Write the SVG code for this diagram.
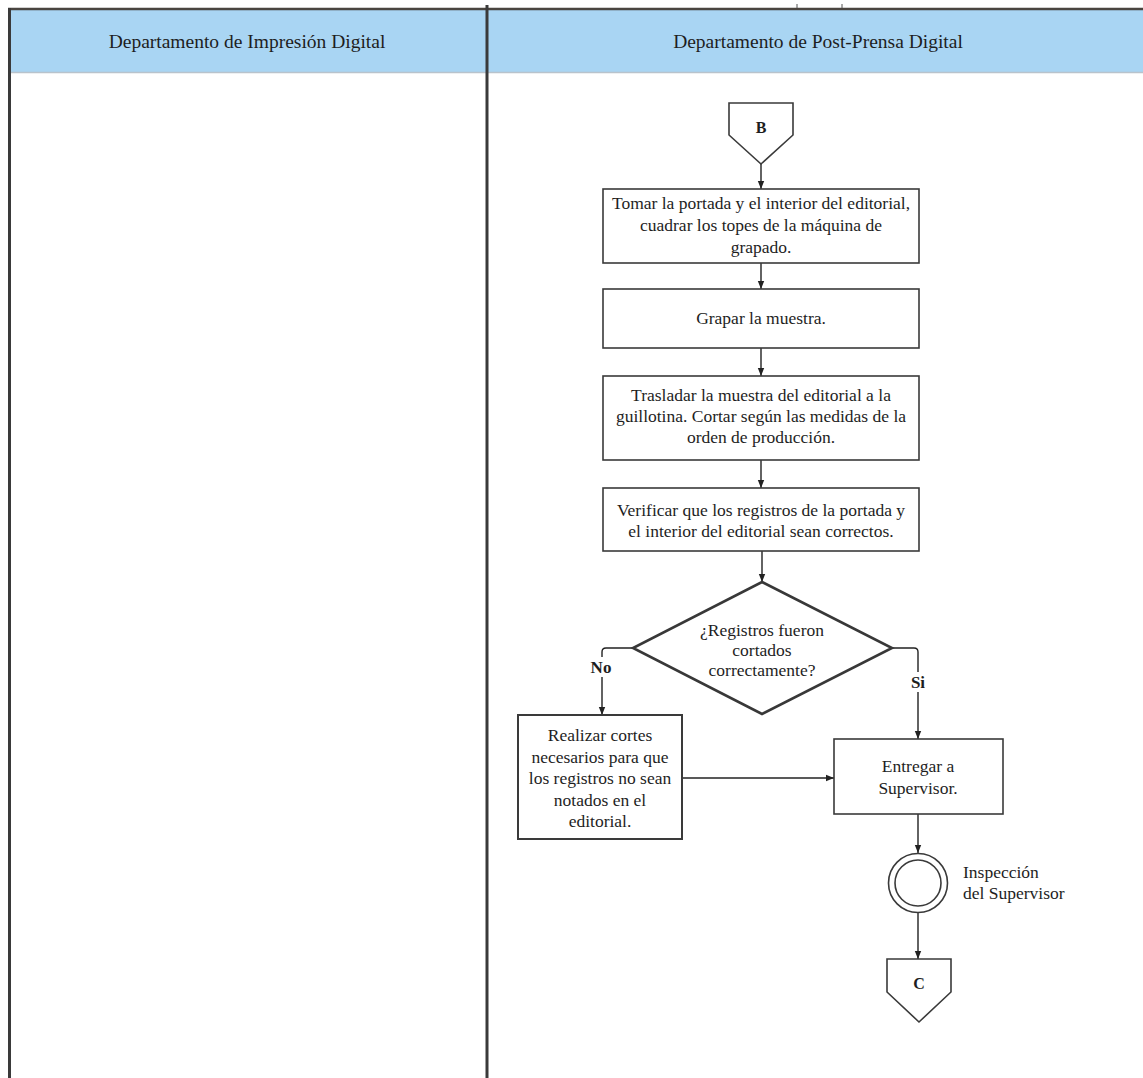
<svg xmlns="http://www.w3.org/2000/svg" width="1143" height="1078" viewBox="0 0 1143 1078" font-family="'Liberation Serif', serif">
  <defs>
    <marker id="arrow" viewBox="0 0 8 8" refX="8" refY="4" markerWidth="8" markerHeight="8" markerUnits="userSpaceOnUse" orient="auto">
      <path d="M0,0.8 L8,4 L0,7.2 Z" fill="#222"/>
    </marker>
    <style>
      text { font-family: 'Liberation Serif', serif; fill: #1e1e1e; }
      .hdr { font-size: 19.5px; text-anchor: middle; }
      .body { font-size: 17.5px; text-anchor: middle; }
      .lbl { font-size: 17.5px; }
      .bold { font-weight: bold; text-anchor: middle; font-size: 17px; }
      .box { fill: #ffffff; stroke: #3a3a3a; stroke-width: 1.6; }
      .thick { fill: #ffffff; stroke: #383838; stroke-width: 2.6; }
      .flow { fill: none; stroke: #222; stroke-width: 1.4; marker-end: url(#arrow); }
    </style>
  </defs>

  <rect x="0" y="0" width="1143" height="1078" fill="#ffffff"/>

  <!-- swimlane frame -->
  <g id="lanes">
    <rect x="9" y="9" width="1134" height="63" fill="#a9d5f3"/>
    <line x1="9" y1="72.5" x2="1143" y2="72.5" stroke="#b9c3cc" stroke-width="1.5"/>
    <line x1="8" y1="9" x2="1143" y2="9" stroke="#4a4540" stroke-width="2.5"/>
    <line x1="9.5" y1="8" x2="9.5" y2="1078" stroke="#3a3a3a" stroke-width="3"/>
    <line x1="487" y1="5" x2="487" y2="1078" stroke="#3a3a3a" stroke-width="3"/>
    <line x1="797" y1="4" x2="797" y2="8" stroke="#555" stroke-width="1"/>
    <line x1="842" y1="4" x2="842" y2="8" stroke="#555" stroke-width="1"/>
    <text class="hdr" x="247" y="48">Departamento de Impresión Digital</text>
    <text class="hdr" x="818" y="48">Departamento de Post-Prensa Digital</text>
  </g>

  <!-- connectors -->
  <g id="connectors">
    <line class="flow" x1="761" y1="164" x2="761" y2="189"/>
    <line class="flow" x1="761" y1="263" x2="761" y2="289"/>
    <line class="flow" x1="761" y1="348" x2="761" y2="376"/>
    <line class="flow" x1="761" y1="460" x2="761" y2="488"/>
    <line class="flow" x1="762" y1="551" x2="762" y2="582"/>
    <path class="flow" d="M633,648 H606 Q602,648 602,652 V715"/>
    <path class="flow" d="M892,648 H914 Q918,648 918,652 V739"/>
    <line class="flow" x1="682" y1="778" x2="834" y2="778"/>
    <line class="flow" x1="918" y1="814" x2="918" y2="853"/>
    <line class="flow" x1="918" y1="913" x2="918" y2="959"/>
    <rect x="588" y="657" width="26" height="20" fill="#ffffff"/>
    <text class="bold" x="601" y="673">No</text>
    <rect x="906" y="672" width="24" height="20" fill="#ffffff"/>
    <text class="bold" x="918" y="688">Si</text>
  </g>

  <!-- off-page connector B -->
  <g id="conn-b">
    <path class="box" d="M729,103 H793 V135 L761,164 L729,135 Z"/>
    <text class="bold" x="761" y="133" style="font-size:16px">B</text>
  </g>

  <g id="tomar">
    <rect class="box" x="603" y="189" width="316" height="74"/>
    <text class="body" x="761" y="209">Tomar la portada y el interior del editorial,</text>
    <text class="body" x="761" y="231">cuadrar los topes de la máquina de</text>
    <text class="body" x="761" y="253">grapado.</text>
  </g>

  <g id="grapar">
    <rect class="box" x="603" y="289" width="316" height="59"/>
    <text class="body" x="761" y="324">Grapar la muestra.</text>
  </g>

  <g id="trasladar">
    <rect class="box" x="603" y="376" width="316" height="84"/>
    <text class="body" x="761" y="401">Trasladar la muestra del editorial a la</text>
    <text class="body" x="761" y="422">guillotina. Cortar según las medidas de la</text>
    <text class="body" x="761" y="443">orden de producción.</text>
  </g>

  <g id="verificar">
    <rect class="box" x="603" y="488" width="316" height="63"/>
    <text class="body" x="761" y="516">Verificar que los registros de la portada y</text>
    <text class="body" x="761" y="537">el interior del editorial sean correctos.</text>
  </g>

  <g id="decision">
    <path class="thick" d="M762,582 L892,648 L762,714 L633,648 Z"/>
    <text class="body" x="762" y="636">¿Registros fueron</text>
    <text class="body" x="762" y="656">cortados</text>
    <text class="body" x="762" y="676">correctamente?</text>
  </g>

  <g id="realizar">
    <rect class="box" x="518" y="715" width="164" height="124" style="stroke-width:2"/>
    <text class="body" x="600" y="741">Realizar cortes</text>
    <text class="body" x="600" y="762.5">necesarios para que</text>
    <text class="body" x="600" y="784">los registros no sean</text>
    <text class="body" x="600" y="805.5">notados en el</text>
    <text class="body" x="600" y="827">editorial.</text>
  </g>

  <g id="entregar">
    <rect class="box" x="834" y="739" width="169" height="75"/>
    <text class="body" x="918" y="772">Entregar a</text>
    <text class="body" x="918" y="794">Supervisor.</text>
  </g>

  <g id="inspeccion">
    <circle cx="918" cy="883" r="29.5" fill="#ffffff" stroke="#3a3a3a" stroke-width="1.6"/>
    <circle cx="918" cy="883" r="23" fill="none" stroke="#3a3a3a" stroke-width="1.6"/>
    <text class="lbl" x="963" y="878">Inspección</text>
    <text class="lbl" x="963" y="899">del Supervisor</text>
  </g>

  <!-- off-page connector C -->
  <g id="conn-c">
    <path class="box" d="M887,959 H951 V992 L919,1022 L887,992 Z"/>
    <text class="bold" x="919" y="989" style="font-size:16px">C</text>
  </g>
</svg>
